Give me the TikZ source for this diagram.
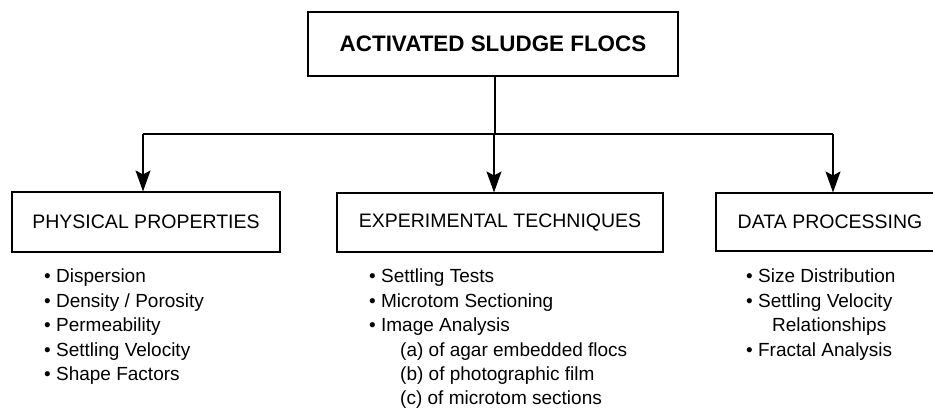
\documentclass[tikz,border=0pt]{standalone}
\usepackage{fontspec}
\setmainfont{Liberation Sans}
\usetikzlibrary{arrows.meta}
\begin{document}
\begin{tikzpicture}[x=1pt,y=-1pt,
  boxstyle/.style={draw,line width=1.1pt,inner sep=0pt,font=\fontsize{19.5}{22}\selectfont},
  liststyle/.style={anchor=north west,inner sep=0pt,align=left,font=\fontsize{19}{24.4}\selectfont},
  arr/.style={-{Stealth[length=21pt,width=15pt,inset=4pt]},line width=1.1pt},
  conn/.style={line width=1.1pt}]
\path[use as bounding box] (0,0) rectangle (933,417);
\clip (0,0) rectangle (933,417);
\node[boxstyle,minimum width=370pt,minimum height=64pt,font=\bfseries\fontsize{22.4}{24}\selectfont] (top) at (493,44) {ACTIVATED SLUDGE FLOCS};
\node[boxstyle,minimum width=268pt,minimum height=60pt] (phys) at (146,222) {PHYSICAL PROPERTIES};
\node[boxstyle,minimum width=326pt,minimum height=59pt] (exp) at (500,222.5) {EXPERIMENTAL TECHNIQUES};
\node[boxstyle,minimum width=228pt,minimum height=58pt] (data) at (830,222) {DATA PROCESSING};
\coordinate (j) at (495,134);
\coordinate (cl) at (143,134);
\coordinate (cm) at (494,134);
\coordinate (cr) at (833,134);
\draw[conn] (top.south -| j) -- (j);
\draw[conn] (cl) -- (cr);
\draw[arr] (cl) -- (cl |- phys.north);
\draw[arr] (cm) -- (cm |- exp.north);
\draw[arr] (cr) -- (cr |- data.north);
\node[liststyle] (physlist) at (44,269) {• Dispersion\\• Density / Porosity\\• Permeability\\• Settling Velocity\\• Shape Factors};
\node[liststyle] (explist) at (369,269) {• Settling Tests\\• Microtom Sectioning\\• Image Analysis\\\hspace{31pt}(a) of agar embedded flocs\\\hspace{31pt}(b) of photographic film\\\hspace{31pt}(c) of microtom sections};
\node[liststyle] (datalist) at (746,269) {• Size Distribution\\• Settling Velocity\\\hspace{26pt}Relationships\\• Fractal Analysis};
\end{tikzpicture}
\end{document}
